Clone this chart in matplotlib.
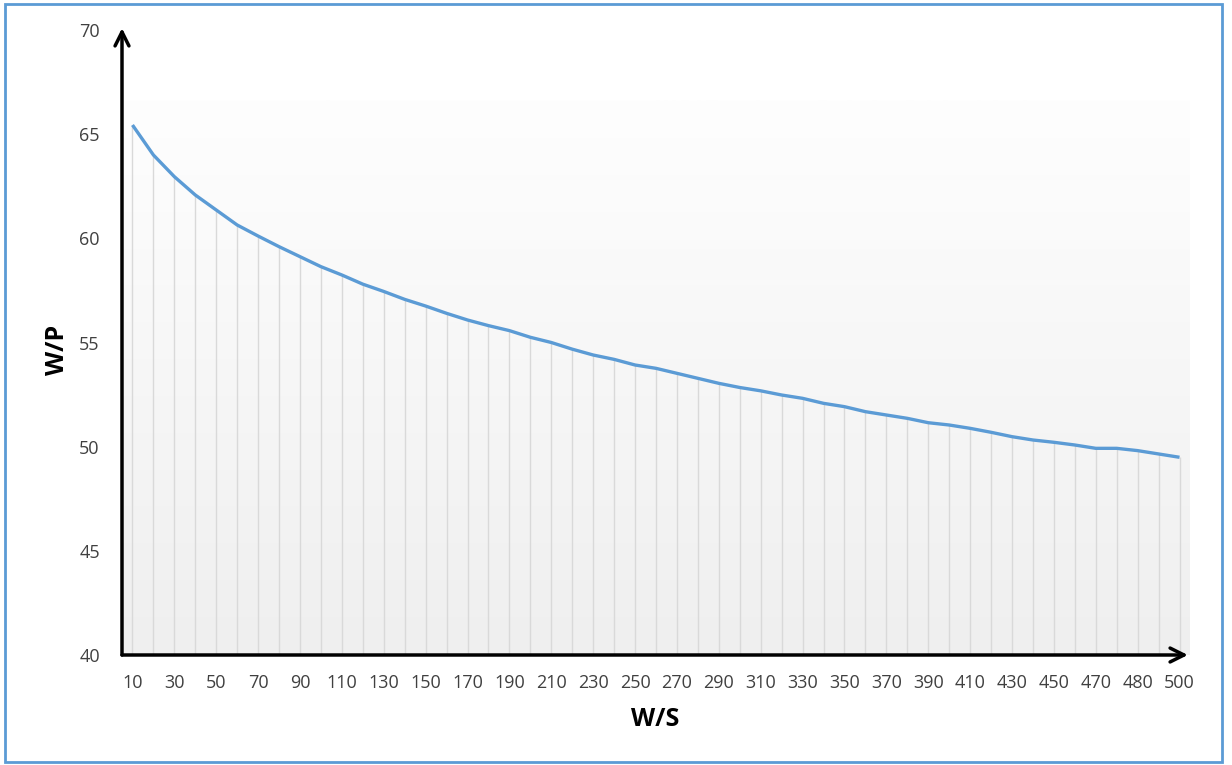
import numpy as np
import matplotlib.pyplot as plt
from matplotlib.patches import Rectangle

# data
ws_labels = [str(v) for v in range(10, 480, 10)] + ['475', '480', '490', '500']
wp = [65.44, 64.0, 62.96, 62.08, 61.36, 60.64, 60.11, 59.6, 59.12, 58.64,
      58.24, 57.8, 57.45, 57.07, 56.75, 56.4, 56.08, 55.81, 55.57, 55.25,
      55.0, 54.68, 54.4, 54.19, 53.92, 53.76, 53.52, 53.28, 53.04, 52.84,
      52.68, 52.48, 52.32, 52.08, 51.92, 51.68, 51.52, 51.36, 51.15, 51.04,
      50.88, 50.69, 50.48, 50.32, 50.21, 50.08, 49.92, 49.92, 49.81, 49.65,
      49.49]
y_ticks = [40, 45, 50, 55, 60, 65, 70]

plt.rcParams['font.family'] = ['Open Sans', 'DejaVu Sans']

fig = plt.figure(figsize=(12.32, 7.65), dpi=100)
ax = fig.add_axes([122 / 1232, 110 / 765, 1068 / 1232, 625 / 765])

x = np.arange(len(wp))

# background gradient of the plot area (white at top -> light grey at bottom)
grad = np.linspace(1.0, 0.0, 256).reshape(-1, 1)
ax.imshow(grad, cmap=plt.matplotlib.colors.LinearSegmentedColormap.from_list(
    'bg', ['#efefef', '#fefefe']), aspect='auto',
    extent=(-0.5, 50.5, 40, 66.6), zorder=0)

# drop lines
ax.vlines(x, 40, wp, color='#d9d9d9', lw=1, zorder=1)
ax.plot(x, wp, color='#5b9bd5', lw=2.4, zorder=3, solid_capstyle='butt')

ax.set_xlim(-0.5, 50.5)
ax.set_ylim(40, 70)
ax.set_xticks(x[::2])
ax.set_xticklabels(ws_labels[::2])
ax.set_yticks(y_ticks)
ax.tick_params(length=0, labelsize=13, labelcolor='#404040')
ax.tick_params(axis='y', pad=16)
ax.tick_params(axis='x', pad=14)
for s in ax.spines.values():
    s.set_visible(False)

# arrow axes
ax.annotate('', xy=(0, 1.003), xytext=(0, 0), xycoords='axes fraction',
            arrowprops=dict(arrowstyle='->', lw=2.5, color='black', mutation_scale=25,
                            shrinkA=0, shrinkB=0))
ax.annotate('', xy=(0.998, 0), xytext=(0, 0), xycoords='axes fraction',
            arrowprops=dict(arrowstyle='->', lw=2.5, color='black', mutation_scale=25,
                            shrinkA=0, shrinkB=0))

fig.text(655 / 1232, 1 - 720 / 765, 'W/S', ha='center', va='center',
         fontsize=18, fontweight='bold')
fig.text(58 / 1232, 1 - 350 / 765, 'W/P', ha='center', va='center',
         fontsize=18, fontweight='bold', rotation=90)

# blue frame around the chart
fig.patches.append(Rectangle((5 / 1232, 3 / 765), 1217 / 1232, 758 / 765,
                             transform=fig.transFigure, fill=False,
                             edgecolor='#5b9bd5', lw=2))

fig.savefig('out.png', dpi=100)
